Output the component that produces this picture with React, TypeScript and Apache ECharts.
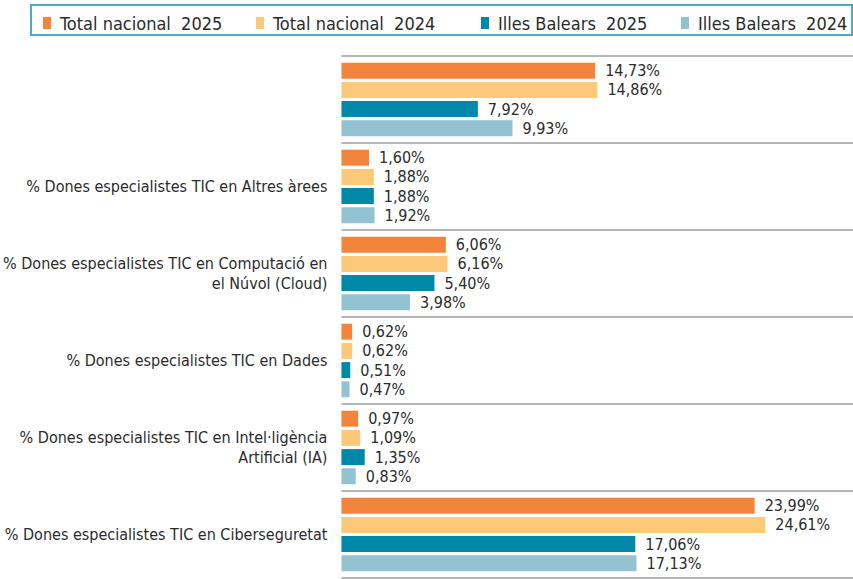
import React, { useEffect, useRef } from "react";
import * as echarts from "echarts";

const categories = [
  "",
  "% Dones especialistes TIC en Altres àrees",
  "% Dones especialistes TIC en Computació en\nel Núvol (Cloud)",
  "% Dones especialistes TIC en Dades",
  "% Dones especialistes TIC en Intel·ligència\nArtificial (IA)",
  "% Dones especialistes TIC en Ciberseguretat",
];
const seriesNames = [
  "Total nacional  2025",
  "Total nacional  2024",
  "Illes Balears  2025",
  "Illes Balears  2024",
];
const total2025 = [14.73, 1.6, 6.06, 0.62, 0.97, 23.99];
const total2024 = [14.86, 1.88, 6.16, 0.62, 1.09, 24.61];
const balears2025 = [7.92, 1.88, 5.4, 0.51, 1.35, 17.06];
const balears2024 = [9.93, 1.92, 3.98, 0.47, 0.83, 17.13];

const colors = ["#F2843C", "#FCC97B", "#0088A9", "#93C2D3"];
const legendLefts = [43, 256, 481, 681];
const FONT = "'Liberation Sans Narrow', 'DejaVu Sans Condensed', 'Noto Sans', sans-serif";

export default function App() {
  const ref = useRef<HTMLDivElement>(null);
  useEffect(() => {
    if (!ref.current) return;
    const chart = echarts.init(ref.current, null, { renderer: "svg" });
    const values = [total2025, total2024, balears2025, balears2024];
    chart.setOption({
      animation: false,
      backgroundColor: "#ffffff",
      textStyle: { fontFamily: FONT },
      graphic: [
        {
          type: "rect",
          shape: { x: 31, y: 5, width: 821, height: 30 },
          style: { fill: "none", stroke: "#4EA9C2", lineWidth: 2 },
          silent: true,
        },
      ],
      legend: seriesNames.map((n, i) => ({
        data: [n],
        left: legendLefts[i],
        top: 14,
        padding: 0,
        itemWidth: 8,
        itemHeight: 12,
        icon: "rect",
        selectedMode: false,
        textStyle: {
          fontFamily: FONT,
          fontSize: 18,
          color: "#2b2b2b",
          padding: [0, 0, 0, 4],
        },
      })),
      grid: { left: 341, right: 0, top: 56, bottom: 1, containLabel: false },
      xAxis: {
        type: "value",
        min: 0,
        max: 29.7,
        show: false,
      },
      yAxis: {
        type: "category",
        data: categories,
        inverse: true,
        axisLine: { show: false },
        axisTick: { show: false },
        splitLine: { show: true, lineStyle: { color: "#9c9c9c", width: 1.5 } },
        axisLabel: {
          fontFamily: FONT,
          fontSize: 16,
          color: "#2b2b2b",
          margin: 14,
          lineHeight: 20,
          align: "right",
        },
      },
      series: seriesNames.map((n, i) => ({
        name: n,
        type: "bar",
        data: values[i],
        barWidth: 16,
        barGap: "20%",
        itemStyle: { color: colors[i] },
        label: {
          show: true,
          position: "right",
          distance: 10,
          fontFamily: FONT,
          fontSize: 16,
          color: "#2b2b2b",
          formatter: (p: any) => p.value.toFixed(2).replace(".", ",") + "%",
        },
      })),
    });
    return () => chart.dispose();
  }, []);
  return (
    <div
      ref={ref}
      style={{ position: "fixed", left: 0, top: 0, width: 853, height: 579 }}
    />
  );
}
